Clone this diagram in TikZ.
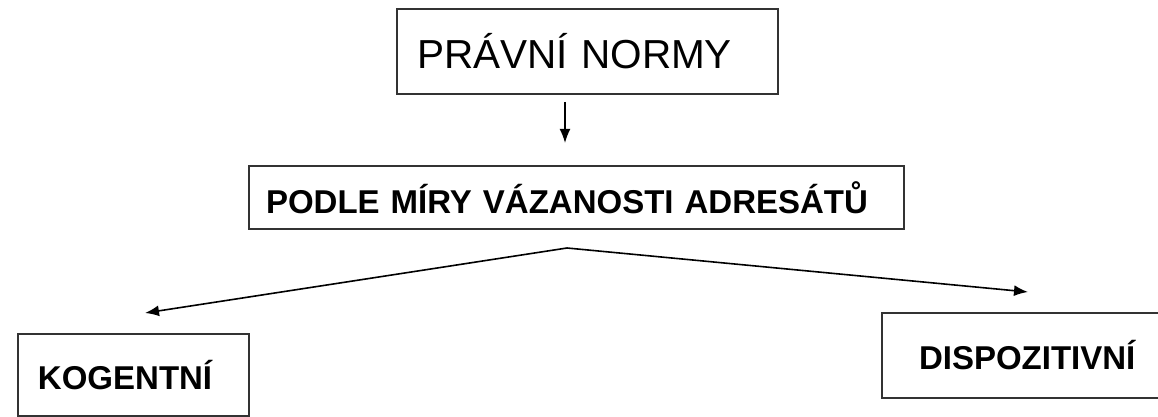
\documentclass[tikz,border=0pt]{standalone}
\usepackage{fontspec}
\setmainfont{Liberation Sans}
\usetikzlibrary{positioning,arrows.meta}

\begin{document}
\begin{tikzpicture}[x=0.5pt, y=-0.5pt,
	box/.style={draw=black!80, line width=1pt, anchor=north west, align=left, inner ysep=0pt},
	lbl/.style={font=\fontsize{16.5}{18}\selectfont\bfseries},
	arr/.style={line width=0.8pt, -{Latex[length=7pt,width=5.5pt]}}]
	\useasboundingbox (0,0) rectangle (1158,417);
	\node[box, inner xsep=10pt, text width=170.5pt, minimum height=42.5pt,
		font=\fontsize{20.25}{22}\selectfont] (norms) at (396,8) {PRÁVNÍ NORMY};
	\node[box, lbl, inner xsep=8.5pt, text width=310.5pt, minimum height=31.5pt] (split) at (248,165) {PODLE MÍRY VÁZANOSTI ADRESÁTŮ};
	\node[box, lbl, inner xsep=10pt, text width=95.5pt, minimum height=41pt] (kog) at (17,333) {KOGENTNÍ};
	\node[box, lbl, inner xsep=18.5pt, text width=120pt, minimum height=42.5pt] (disp) at (881,312) {DISPOZITIVNÍ};
	\coordinate (d1) at (565,102);
	\coordinate (d2) at (565,143);
	\coordinate (apex) at (567,248);
	\coordinate (k1) at (145,313);
	\coordinate (p1) at (1028,292);
	\draw[arr] (d1) to (d2);
	\draw[arr] (apex) to (k1);
	\draw[arr] (apex) to (p1);
\end{tikzpicture}
\end{document}
